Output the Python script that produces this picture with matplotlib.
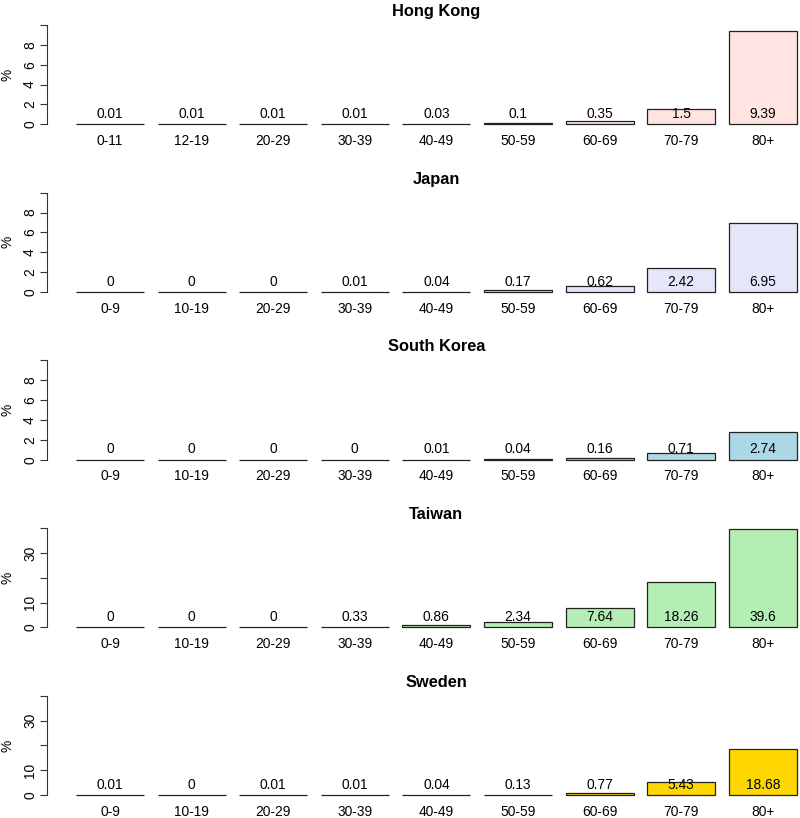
import numpy as np
import matplotlib.pyplot as plt

plt.rcParams['font.family'] = ['Liberation Sans', 'DejaVu Sans']

hk_groups = ["0-11", "12-19", "20-29", "30-39", "40-49", "50-59", "60-69", "70-79", "80+"]
groups = ["0-9", "10-19", "20-29", "30-39", "40-49", "50-59", "60-69", "70-79", "80+"]

hong_kong = [0.01, 0.01, 0.01, 0.01, 0.03, 0.1, 0.35, 1.5, 9.39]
japan = [0, 0, 0, 0.01, 0.04, 0.17, 0.62, 2.42, 6.95]
south_korea = [0, 0, 0, 0, 0.01, 0.04, 0.16, 0.71, 2.74]
taiwan = [0, 0, 0, 0.33, 0.86, 2.34, 7.64, 18.26, 39.6]
sweden = [0.01, 0, 0.01, 0.01, 0.04, 0.13, 0.77, 5.43, 18.68]

panels = [
    ("Hong Kong", hk_groups, hong_kong, "#FFE4E1", 10),
    ("Japan", groups, japan, "#E6E6FA", 10),
    ("South Korea", groups, south_korea, "#ADD8E6", 10),
    ("Taiwan", groups, taiwan, "#B4EEB4", 40),
    ("Sweden", groups, sweden, "#FFD700", 40),
]

W, H = 800, 818
fig = plt.figure(figsize=(W / 100, H / 100), dpi=100)

# pixel layout (R barplot look)
x_left_px = 47.2
x_right_px = 825.6
zero0 = 124.3
step = 167.7
plot_h = 99.3
fs = 9.9

# R barplot geometry: width 1, space 0.2
xs = 0.2 + 1.2 * np.arange(9) + 0.5
xlim = (-0.224, 11.224)

for k, (name, cats, vals, col, top) in enumerate(panels):
    zero_px = zero0 + k * step
    ax = fig.add_axes([x_left_px / W, 1 - zero_px / H,
                       (x_right_px - x_left_px) / W, plot_h / H])
    ax.bar(xs, vals, width=1.0, color=col, edgecolor="#222222", linewidth=0.9,
           clip_on=False)
    ax.set_xlim(*xlim)
    ax.set_ylim(0, top)
    for s in ("top", "right", "bottom"):
        ax.spines[s].set_visible(False)
    ax.spines["left"].set_bounds(0, top)
    ax.spines["left"].set_color("#333333")
    ax.set_xticks([])
    if top == 10:
        ticks = [0, 2, 4, 6, 8, 10]
        labels = ["0", "2", "4", "6", "8", ""]
    else:
        ticks = [0, 10, 20, 30, 40]
        labels = ["0", "10", "", "30", ""]
    ax.set_yticks(ticks)
    ax.set_yticklabels(labels, rotation=90, va="center", fontsize=fs)
    ax.tick_params(axis="y", length=4.8, width=0.8, pad=2.5, color="#333333")
    fig.text(8 / W, 1 - (zero_px - plot_h / 2) / H, "%", rotation=90,
             ha="center", va="center", fontsize=fs)
    ax.set_title(name, fontsize=11.8, fontweight="bold", pad=6.5)
    for x, v, c in zip(xs, vals, cats):
        ax.annotate(f"{v:g}", (x, 0), xytext=(0, 7.5), textcoords="offset points",
                    ha="center", va="center", fontsize=fs)
        ax.annotate(c, (x, 0), xytext=(0, -12), textcoords="offset points",
                    ha="center", va="center", fontsize=fs, annotation_clip=False)

fig.savefig("out.png", dpi=100)
